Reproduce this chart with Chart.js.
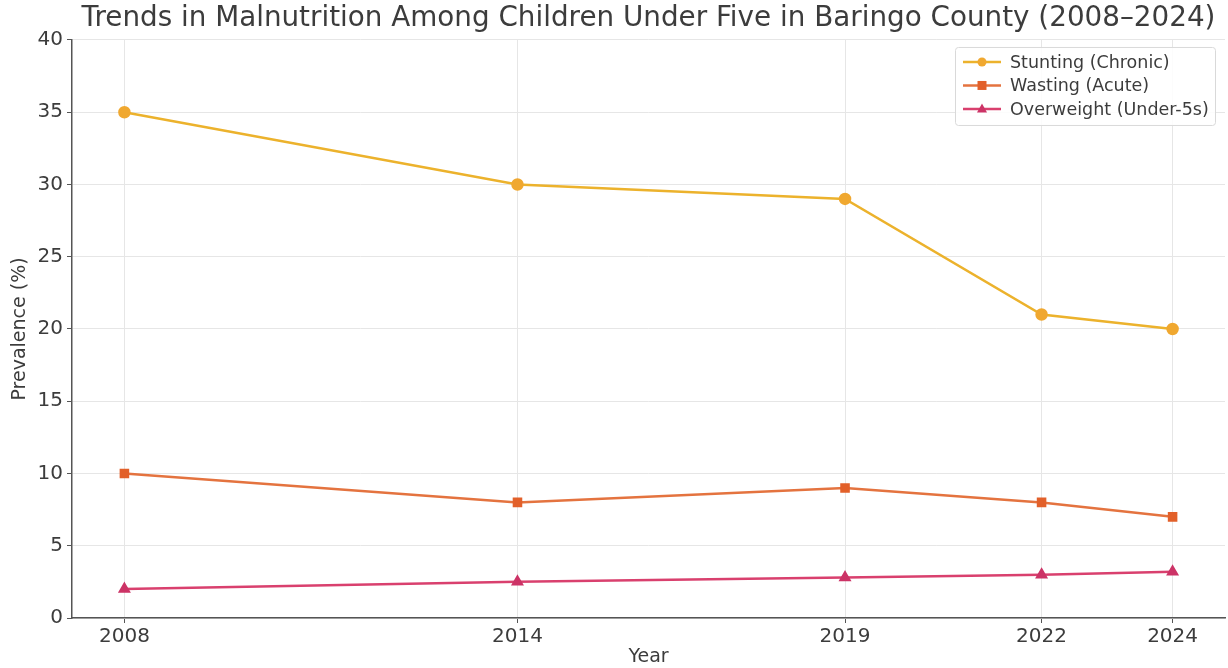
<!DOCTYPE html>
<html>
<head>
<meta charset="utf-8">
<script src="https://cdn.jsdelivr.net/npm/chart.js@4.4.1/dist/chart.umd.min.js"></script>
<style>
  html, body { margin: 0; padding: 0; background: #fff; }
  #wrap { position: relative; width: 1228px; height: 668px; }
</style>
</head>
<body>
<div id="wrap"><canvas id="c" width="1228" height="668"></canvas></div>
<script>
const years = [2008, 2014, 2019, 2022, 2024];
const stunting = [35, 30, 29, 21, 20];
const wasting = [10, 8, 9, 8, 7];
const overweight = [2.0, 2.5, 2.8, 3.0, 3.2];
const yTicks = [0, 5, 10, 15, 20, 25, 30, 35, 40];
const seriesNames = ['Stunting (Chronic)', 'Wasting (Acute)', 'Overweight (Under-5s)'];

const FONT = "'DejaVu Sans', sans-serif";
const TXT = '#3c3c3c';

function pts(vals) { return years.map((x, i) => ({ x: x, y: vals[i] })); }

const legendPlugin = {
  id: 'boxLegend',
  afterDraw(chart) {
    const ctx = chart.ctx;
    const ca = chart.chartArea;
    const x0 = ca.right - 270, y0 = ca.top + 7, w = 260, h = 78;
    ctx.save();
    ctx.fillStyle = 'rgba(255,255,255,0.85)';
    ctx.strokeStyle = '#d9d9d9';
    ctx.lineWidth = 1;
    ctx.beginPath();
    ctx.roundRect(x0 + 0.5, y0 + 0.5, w, h, 3);
    ctx.fill();
    ctx.stroke();
    ctx.font = '17.5px ' + FONT;
    ctx.textBaseline = 'middle';
    chart.data.datasets.forEach((ds, i) => {
      const yy = y0 + 15 + i * 23.5;
      ctx.strokeStyle = ds.borderColor;
      ctx.lineWidth = 2.5;
      ctx.beginPath();
      ctx.moveTo(x0 + 8, yy);
      ctx.lineTo(x0 + 46, yy);
      ctx.stroke();
      ctx.fillStyle = ds.pointBackgroundColor;
      const mx = x0 + 27, r = 4.5;
      ctx.beginPath();
      if (ds.pointStyle === 'circle') { ctx.arc(mx, yy, r, 0, Math.PI * 2); }
      else if (ds.pointStyle === 'rect') { ctx.rect(mx - r, yy - r, 2 * r, 2 * r); }
      else { ctx.moveTo(mx, yy - r - 1); ctx.lineTo(mx + r + 0.5, yy + r - 1); ctx.lineTo(mx - r - 0.5, yy + r - 1); ctx.closePath(); }
      ctx.fill();
      ctx.fillStyle = TXT;
      ctx.fillText(ds.label, x0 + 55, yy + 1);
    });
    ctx.restore();
  }
};

new Chart(document.getElementById('c'), {
  type: 'line',
  data: {
    datasets: [
      { label: seriesNames[0], data: pts(stunting), borderColor: '#ECB22C', backgroundColor: '#F0A830',
        pointBackgroundColor: '#F0A830', pointBorderColor: '#F0A830', pointStyle: 'circle', pointRadius: 5, borderWidth: 2.5 },
      { label: seriesNames[1], data: pts(wasting), borderColor: '#E4733F', backgroundColor: '#E2602A',
        pointBackgroundColor: '#E2602A', pointBorderColor: '#E2602A', pointStyle: 'rect', pointRadius: 5, borderWidth: 2.5 },
      { label: seriesNames[2], data: pts(overweight), borderColor: '#D9406E', backgroundColor: '#CC3366',
        pointBackgroundColor: '#CC3366', pointBorderColor: '#CC3366', pointStyle: 'triangle', pointRadius: 5, borderWidth: 2.5 }
    ]
  },
  options: {
    responsive: false,
    animation: false,
    layout: { autoPadding: false, padding: { left: 0, right: 3, top: 0, bottom: 0 } },
    plugins: {
      legend: { display: false },
      tooltip: { enabled: false },
      title: {
        display: true,
        fullSize: false,
        text: 'Trends in Malnutrition Among Children Under Five in Baringo County (2008–2024)',
        color: TXT,
        align: 'center',
        font: { family: FONT, size: 27.8, weight: 'normal', lineHeight: 1.2 },
        padding: { top: 2, bottom: 4.6 }
      }
    },
    scales: {
      x: {
        type: 'linear',
        min: 2007.2,
        max: 2024.8,
        afterBuildTicks(scale) { scale.ticks = years.map(v => ({ value: v })); },
        afterFit(scale) { scale.height = 50; },
        ticks: { color: TXT, font: { family: FONT, size: 20 }, padding: 2, autoSkip: false, maxRotation: 0,
          callback: v => String(v) },
        grid: { color: '#e6e6e6', lineWidth: 1, tickColor: '#555', tickLength: 5 },
        border: { display: true, color: '#555555', width: 1.5 },
        title: { display: true, text: 'Year', color: TXT, font: { family: FONT, size: 19 }, padding: { top: 0, bottom: 0 } }
      },
      y: {
        min: 0,
        max: 40,
        afterBuildTicks(scale) { scale.ticks = yTicks.map(v => ({ value: v })); },
        afterFit(scale) { scale.width = 72; },
        ticks: { color: TXT, font: { family: FONT, size: 20 }, padding: 4 },
        grid: { color: '#e6e6e6', lineWidth: 1, tickColor: '#555', tickLength: 5 },
        border: { display: true, color: '#555555', width: 1.5 },
        title: { display: true, text: 'Prevalence (%)', color: TXT, font: { family: FONT, size: 19 }, padding: { top: 9, bottom: 0 } }
      }
    }
  },
  plugins: [legendPlugin]
});
</script>
</body>
</html>
